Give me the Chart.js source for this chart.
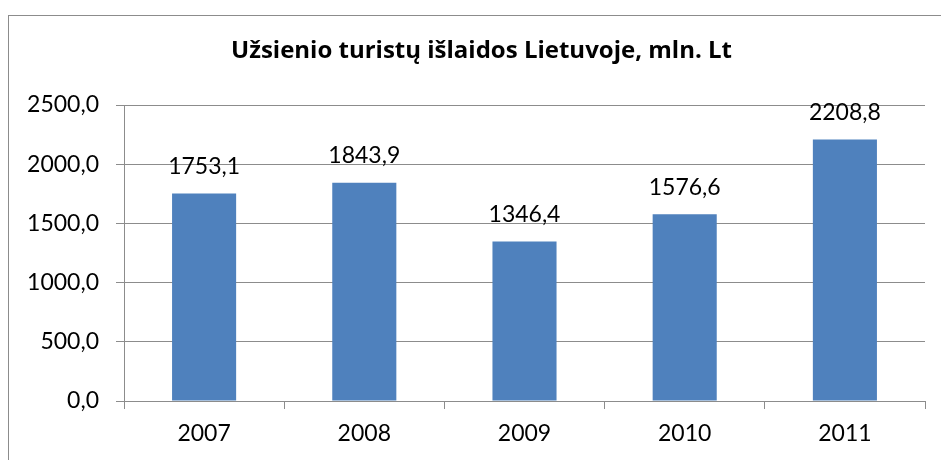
<!DOCTYPE html>
<html>
<head>
<meta charset="utf-8">
<script src="https://cdn.jsdelivr.net/npm/chart.js@4"></script>
<style>
  html, body { margin: 0; padding: 0; background: #fff; }
  #remas {
    position: absolute; left: 8px; top: 15px; width: 1000px; height: 600px;
    border: 1px solid #8c8c8c; box-sizing: border-box;
  }
  #grafikas-wrap { position: absolute; left: 0; top: 0; width: 941px; height: 460px; }
</style>
</head>
<body>
<div id="remas"></div>
<div id="grafikas-wrap"><canvas id="grafikas" width="941" height="460"></canvas></div>
<script>
// Duomenys
const metai = ['2007', '2008', '2009', '2010', '2011'];
const islaidos = [1753.1, 1843.9, 1346.4, 1576.6, 2208.8];
const yTikai = [0, 500, 1000, 1500, 2000, 2500];
const pavadinimas = 'Užsienio turistų išlaidos Lietuvoje, mln. Lt';

const fontas = 'Lato, "Open Sans", sans-serif';
const pavFontas = '"Open Sans", Lato, sans-serif';

function kablelis(v) {
    return v.toFixed(1).replace('.', ',');
}

// Reikšmės virš stulpelių
const reiksmiuPluginas = {
    id: 'reiksmes',
    afterDatasetsDraw(chart) {
        const ctx = chart.ctx;
        const meta = chart.getDatasetMeta(0);
        ctx.save();
        ctx.font = '23px ' + fontas;
        ctx.fillStyle = '#000';
        ctx.textAlign = 'center';
        ctx.textBaseline = 'middle';
        meta.data.forEach((bar, i) => {
            ctx.fillText(kablelis(chart.data.datasets[0].data[i]), bar.x, bar.y - 27);
        });
        ctx.restore();
    }
};

// Pavadinimas centruojamas rėmelio viduje (ne visos drobės)
const pavadinimoPluginas = {
    id: 'pavadinimas',
    afterDraw(chart) {
        const ctx = chart.ctx;
        ctx.save();
        ctx.font = 'bold 24px ' + pavFontas;
        ctx.fillStyle = '#000';
        ctx.textAlign = 'center';
        ctx.textBaseline = 'middle';
        ctx.fillText(pavadinimas, (38 + chart.chartArea.right) / 2, 51);
        ctx.restore();
    }
};

new Chart(document.getElementById('grafikas'), {
    type: 'bar',
    data: {
        labels: metai,
        datasets: [{
            data: islaidos,
            backgroundColor: '#4F81BD',
            borderWidth: 0,
            categoryPercentage: 1,
            barPercentage: 0.4
        }]
    },
    options: {
        responsive: false,
        animation: false,
        layout: { padding: { left: 0, right: 16, top: 105, bottom: 0 } },
        plugins: {
            legend: { display: false },
            tooltip: { enabled: false },
            title: { display: false }
        },
        scales: {
            x: {
                grid: {
                    offset: true,
                    drawOnChartArea: false,
                    drawTicks: true,
                    tickLength: 8,
                    color: '#8c8c8c'
                },
                border: { display: true, color: '#8c8c8c' },
                ticks: { color: '#000', padding: 11, font: { family: fontas, size: 23 } },
                afterFit(scale) { scale.height = 59; }
            },
            y: {
                min: 0,
                max: 2500,
                afterBuildTicks(scale) {
                    scale.ticks = yTikai.map(v => ({ value: v }));
                },
                grid: { color: '#8c8c8c', tickLength: 8 },
                border: { display: true, color: '#8c8c8c' },
                ticks: {
                    color: '#000',
                    padding: 17,
                    font: { family: fontas, size: 23 },
                    callback: v => kablelis(v)
                },
                afterFit(scale) { scale.width = 124; }
            }
        }
    },
    plugins: [reiksmiuPluginas, pavadinimoPluginas]
});
</script>
</body>
</html>
